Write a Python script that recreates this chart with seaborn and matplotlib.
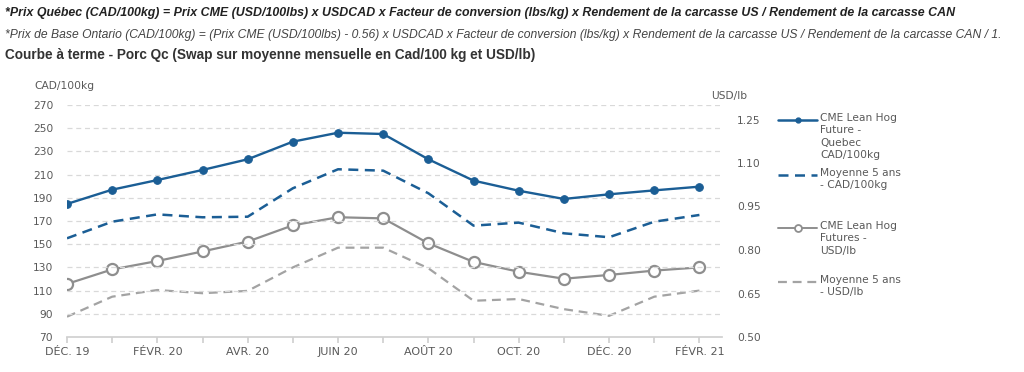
import pandas as pd
import matplotlib.pyplot as plt
import seaborn as sns
from matplotlib.lines import Line2D

# --- data ---
months = ['DÉC. 19', 'JANV. 20', 'FÉVR. 20', 'MARS 20', 'AVR. 20', 'MAI 20', 'JUIN 20',
          'JUIL. 20', 'AOÛT 20', 'SEPT. 20', 'OCT. 20', 'NOV. 20', 'DÉC. 20', 'JANV. 21', 'FÉVR. 21']
quebec_cad = [184.7, 197.0, 205.3, 214.0, 223.2, 238.4, 246.1, 245.0, 223.2, 204.8, 196.1, 189.0, 193.0, 196.4, 199.6]
avg5_cad = [155.1, 169.4, 175.7, 173.2, 173.7, 198.2, 214.6, 213.4, 193.9, 166.0, 168.6, 159.4, 156.0, 169.4, 175.2]
lean_usd = [0.683, 0.733, 0.762, 0.795, 0.829, 0.885, 0.913, 0.909, 0.823, 0.759, 0.725, 0.701, 0.714, 0.729, 0.740]
avg5_usd = [0.570, 0.639, 0.662, 0.651, 0.659, 0.740, 0.808, 0.808, 0.737, 0.625, 0.631, 0.596, 0.573, 0.639, 0.660]

labels = ['CME Lean Hog\nFuture -\nQuebec\nCAD/100kg', 'Moyenne 5 ans\n- CAD/100kg',
          'CME Lean Hog\nFutures -\nUSD/lb', 'Moyenne 5 ans\n- USD/lb']

df = pd.DataFrame({'pos': range(len(months)), 'month': months,
                   'quebec_cad': quebec_cad, 'avg5_cad': avg5_cad,
                   'lean_usd': lean_usd, 'avg5_usd': avg5_usd})

BLUE = '#1B5E95'
GREY = '#8E8E8E'
GREY2 = '#A3A3A3'
TXT = '#595959'

sns.set_theme(style='white')
plt.rcParams['font.family'] = ['DejaVu Sans']

fig = plt.figure(figsize=(10.24, 3.72), dpi=100)
ax = fig.add_axes([67 / 1024, 1 - 337 / 372, 655 / 1024, 232 / 372])
ax2 = ax.twinx()

sns.lineplot(data=df, x='pos', y='quebec_cad', ax=ax, color=BLUE, lw=1.7,
             marker='o', markersize=5.5, markeredgecolor=BLUE, zorder=4)
sns.lineplot(data=df, x='pos', y='avg5_cad', ax=ax, color=BLUE, lw=1.8,
             linestyle=(0, (4, 2.6)), zorder=3)
sns.lineplot(data=df, x='pos', y='lean_usd', ax=ax2, color=GREY, lw=1.6,
             marker='o', markersize=8, markerfacecolor='white', markeredgecolor=GREY,
             markeredgewidth=1.6, zorder=4)
sns.lineplot(data=df, x='pos', y='avg5_usd', ax=ax2, color=GREY2, lw=1.6,
             linestyle=(0, (4, 2.6)), zorder=3)

# axes styling
ax.set_ylim(70, 270)
ax.set_yticks(range(70, 271, 20))
ax2.set_ylim(0.50, 1.30)
ax2.set_yticks([0.50, 0.65, 0.80, 0.95, 1.10, 1.25])
ax2.set_yticklabels([f'{v:.2f}' for v in [0.50, 0.65, 0.80, 0.95, 1.10, 1.25]])
ax.set_xlim(0, 14.5)
ax.set_xticks(df['pos'])
ax.set_xticklabels([m if i % 2 == 0 else '' for i, m in enumerate(months)])

for a in (ax, ax2):
    a.set_xlabel('')
    a.set_ylabel('')
    for s in a.spines.values():
        s.set_visible(False)
    a.tick_params(axis='y', length=0, labelsize=7.7, labelcolor=TXT)
ax.tick_params(axis='y', pad=10)
ax2.tick_params(axis='y', pad=11)
ax.spines['bottom'].set_visible(True)
ax.spines['bottom'].set_color('#D0D0D0')
ax.tick_params(axis='x', bottom=True, length=4, color='#D0D0D0', labelsize=8,
               labelcolor=TXT, pad=3)
ax.set_zorder(ax2.get_zorder() + 1)
ax.patch.set_visible(False)

for v in range(90, 271, 20):
    ax.axhline(v, color='#D9D9D9', lw=0.9, linestyle=(0, (4, 3)), zorder=1)

fig.text(34 / 1024, 1 - 86 / 372, 'CAD/100kg', fontsize=7.7, color=TXT, va='center')
fig.text(711 / 1024, 1 - 96 / 372, 'USD/lb', fontsize=7.7, color=TXT, va='center')

# legend (entries aligned on their first line, as in the source)
styles = [dict(color=BLUE, lw=1.8, marker='o', markersize=3.5),
          dict(color=BLUE, lw=1.8, linestyle=(0, (4, 2.6))),
          dict(color=GREY, lw=1.4, marker='o', markersize=5, markerfacecolor='white',
               markeredgewidth=1.3),
          dict(color=GREY2, lw=1.6, linestyle=(0, (4, 2.6)))]
for y, lab, st in zip([120, 175, 228, 282], labels, styles):
    yf = 1 - y / 372
    fig.add_artist(Line2D([778 / 1024, 797.5 / 1024, 817 / 1024], [yf, yf, yf],
                          markevery=[1] if 'marker' in st else None, **st))
    fig.text(820 / 1024, yf + 7 / 372, lab, fontsize=7.7, color=TXT, va='top',
             linespacing=1.3)

# header lines
fig.text(5 / 1024, 1 - 13 / 372,
         '*Prix Québec (CAD/100kg) = Prix CME (USD/100lbs) x USDCAD x Facteur de conversion (lbs/kg) '
         'x Rendement de la carcasse US / Rendement de la carcasse CAN',
         family='Liberation Sans', fontsize=8.9, fontweight='bold',
         style='italic', color='#222222', va='center')
fig.text(5 / 1024, 1 - 35 / 372,
         '*Prix de Base Ontario (CAD/100kg) = (Prix CME (USD/100lbs) - 0.56) x USDCAD x Facteur de '
         'conversion (lbs/kg) x Rendement de la carcasse US / Rendement de la carcasse CAN / 1.',
         family='Liberation Sans', fontsize=8.7,
         style='italic', color='#444444', va='center')
fig.text(5 / 1024, 1 - 55 / 372,
         'Courbe à terme - Porc Qc (Swap sur moyenne mensuelle en Cad/100 kg et USD/lb)',
         family='Liberation Sans', fontsize=9.8, fontweight='bold',
         color='#333333', va='center')

fig.savefig('out.png', dpi=100)
